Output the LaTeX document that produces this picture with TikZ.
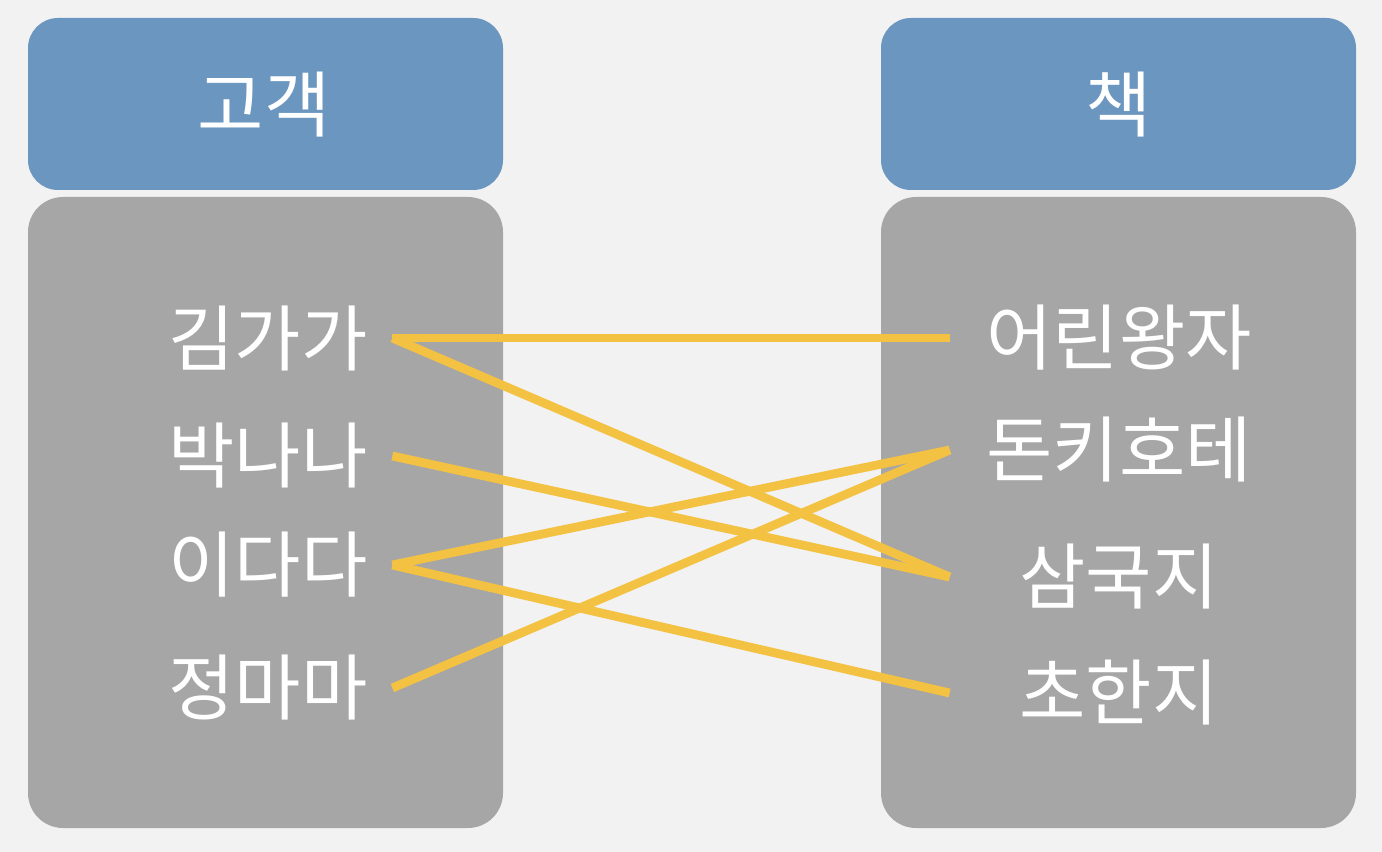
\documentclass[tikz,border=0pt]{standalone}
\usepackage{fontspec}
\newfontfamily\kr{Noto Sans CJK KR}
\definecolor{bgcol}{HTML}{F2F2F2}
\definecolor{headcol}{HTML}{6A96C0}
\definecolor{bodycol}{HTML}{A6A6A6}
\definecolor{linkcol}{HTML}{F4C242}
\begin{document}
\begin{tikzpicture}
  \tikzset{head/.style={fill=headcol, rounded corners=0.6cm},
    body/.style={fill=bodycol, rounded corners=0.7cm},
    label/.style={text=white, font=\kr\fontsize{41}{44}\selectfont, inner sep=0pt},
    lname/.style={label, minimum width=4.96cm},
    rname/.style={label, minimum width=6.76cm},
    link/.style={draw=linkcol, line width=5pt}}
  \fill[bgcol] (0,0) rectangle (27.64,-17.04);
  \useasboundingbox (0,0) rectangle (27.64,-17.04);
  % columns
  \fill[head] (0.56,-0.36) rectangle (10.06,-3.8);
  \fill[body] (0.56,-3.94) rectangle (10.06,-16.56);
  \fill[head] (17.62,-0.36) rectangle (27.12,-3.8);
  \fill[body] (17.62,-3.94) rectangle (27.12,-16.56);
  \node[label] (customer) at (5.28,-2.1) {고객};
  \node[label] (book) at (22.38,-2.1) {책};
  % customers
  \node[lname] (kim) at (5.36,-6.76) {김가가};
  \node[lname] (park) at (5.36,-9.12) {박나나};
  \node[lname] (lee) at (5.36,-11.3) {이다다};
  \node[lname] (jung) at (5.36,-13.76) {정마마};
  % books
  \node[rname] (prince) at (22.38,-6.76) {어린왕자};
  \node[rname] (quixote) at (22.38,-9.0) {돈키호테};
  \node[rname] (samguk) at (22.38,-11.54) {삼국지};
  \node[rname] (chohan) at (22.38,-13.86) {초한지};
  % links
  \draw[link] (kim.east) -- (prince.west);
  \draw[link] (kim.east) -- (samguk.west);
  \draw[link] (park.east) -- (samguk.west);
  \draw[link] (lee.east) -- (quixote.west);
  \draw[link] (lee.east) -- (chohan.west);
  \draw[link] (jung.east) -- (quixote.west);
\end{tikzpicture}
\end{document}
